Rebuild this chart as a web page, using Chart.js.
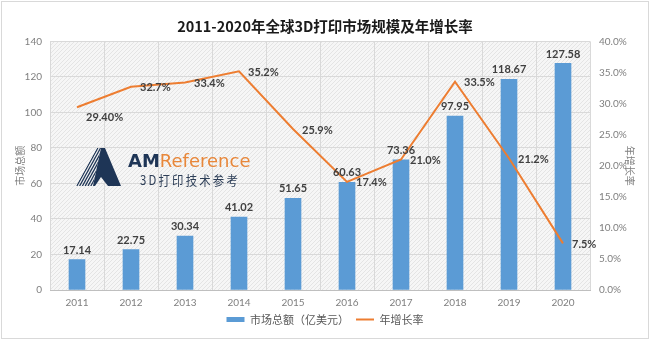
<!DOCTYPE html>
<html>
<head>
<meta charset="utf-8">
<script src="https://cdn.jsdelivr.net/npm/chart.js@4.4.0/dist/chart.umd.min.js"></script>
<style>
html, body { margin: 0; padding: 0; background: #fff; }
#wrap { width: 650px; height: 341px; }
</style>
</head>
<body>
<div id="wrap"><canvas id="chart" width="650" height="341"></canvas></div>
<script>
const years = ['2011', '2012', '2013', '2014', '2015', '2016', '2017', '2018', '2019', '2020'];
const marketSize = [17.14, 22.75, 30.34, 41.02, 51.65, 60.63, 73.36, 97.95, 118.67, 127.58];
const growthRate = [29.4, 32.7, 33.4, 35.2, 25.9, 17.4, 21.0, 33.5, 21.2, 7.5];
const growthText = ['29.40%', '32.7%', '33.4%', '35.2%', '25.9%', '17.4%', '21.0%', '33.5%', '21.2%', '7.5%'];

const FONT = 'Lato, "Noto Sans CJK SC", sans-serif';
const CJK = '"Noto Sans CJK SC", sans-serif';

// hatched light-grey plot background, like the excel texture
function makeHatch() {
    const p = document.createElement('canvas');
    p.width = 4; p.height = 4;
    const g = p.getContext('2d');
    g.fillStyle = '#f6f6f6';
    g.fillRect(0, 0, 4, 4);
    g.strokeStyle = '#e4e4e4';
    g.lineWidth = 1;
    g.beginPath();
    g.moveTo(0, 4); g.lineTo(4, 0);
    g.stroke();
    return g.createPattern(p, 'repeat');
}

const backdrop = {
    id: 'backdrop',
    beforeDraw(chart) {
        const ctx = chart.ctx, a = chart.chartArea;
        ctx.save();
        ctx.fillStyle = '#fff';
        ctx.fillRect(0, 0, chart.width, chart.height);
        ctx.fillStyle = makeHatch();
        ctx.fillRect(a.left, a.top, a.right - a.left, a.bottom - a.top);
        ctx.strokeStyle = '#d9d9d9';
        ctx.lineWidth = 1;
        ctx.strokeRect(1.5, 1.5, chart.width - 3, chart.height - 4);
        ctx.restore();
    }
};

function drawLogo(ctx) {
    const navy = '#1e3556';
    ctx.save();
    // striped left leg of the "A"
    ctx.beginPath();
    ctx.moveTo(76, 186); ctx.lineTo(97, 148); ctx.lineTo(101, 148); ctx.lineTo(93, 186);
    ctx.closePath();
    ctx.save();
    ctx.clip();
    ctx.strokeStyle = navy;
    ctx.lineWidth = 1.3;
    for (let dx = -30; dx < 40; dx += 2.8) {
        ctx.beginPath();
        ctx.moveTo(76 + dx, 186);
        ctx.lineTo(97 + dx, 148);
        ctx.stroke();
    }
    ctx.restore();
    // solid right leg
    ctx.fillStyle = navy;
    ctx.beginPath();
    ctx.moveTo(101, 148); ctx.lineTo(105, 148); ctx.lineTo(121, 186);
    ctx.lineTo(108, 186); ctx.lineTo(101, 177); ctx.lineTo(95, 186); ctx.lineTo(93, 186);
    ctx.closePath();
    ctx.fill();

    ctx.textBaseline = 'alphabetic';
    ctx.textAlign = 'left';
    ctx.font = 'bold 18px "DejaVu Sans", sans-serif';
    ctx.fillStyle = navy;
    const amW = Math.min(ctx.measureText('AM').width, 33);
    ctx.fillText('AM', 128, 167, 33);
    ctx.font = '18px "DejaVu Sans", sans-serif';
    ctx.fillStyle = '#e8873a';
    ctx.fillText('Reference', 128 + amW, 167, 252 - 128 - amW);
    ctx.font = '13px ' + CJK;
    ctx.fillStyle = '#2d3e57';
    ctx.textBaseline = 'middle';
    ctx.letterSpacing = '2.5px';
    ctx.fillText('3D打印技术参考', 140, 180, 100);
    ctx.restore();
}

const valueLabels = {
    id: 'valueLabels',
    afterDatasetsDraw(chart) {
        const ctx = chart.ctx;
        drawLogo(ctx);
        ctx.save();
        ctx.font = 'bold 11px ' + FONT;
        ctx.fillStyle = '#404040';
        const bars = chart.getDatasetMeta(0).data;
        ctx.textAlign = 'center';
        ctx.textBaseline = 'bottom';
        bars.forEach((b, i) => {
            ctx.fillText(marketSize[i].toFixed(2), b.x, b.y - 4);
        });
        const pts = chart.getDatasetMeta(1).data;
        ctx.textAlign = 'left';
        ctx.textBaseline = 'middle';
        pts.forEach((p, i) => {
            const dy = i === 0 ? 10 : 1;
            ctx.fillText(growthText[i], p.x + 9, p.y + dy);
        });
        ctx.restore();
    }
};

new Chart(document.getElementById('chart'), {
    data: {
        labels: years,
        datasets: [{
            type: 'bar',
            label: '市场总额（亿美元）',
            data: marketSize,
            backgroundColor: '#5b9bd5',
            barThickness: 16,
            yAxisID: 'y',
            order: 2,
            pointStyle: 'rect'
        }, {
            type: 'line',
            label: '年增长率',
            data: growthRate,
            borderColor: '#ed7d31',
            backgroundColor: '#ed7d31',
            borderWidth: 2,
            pointRadius: 0,
            tension: 0,
            yAxisID: 'y1',
            order: 1,
            pointStyle: 'line'
        }]
    },
    options: {
        responsive: false,
        animation: false,
        devicePixelRatio: 1,
        layout: { padding: { left: 0, right: 0, top: 0, bottom: 6 } },
        plugins: {
            title: {
                display: true,
                text: '2011-2020年全球3D打印市场规模及年增长率',
                color: '#1a1a1a',
                font: { family: CJK, size: 14.5, weight: 'bold' },
                padding: { top: 18, bottom: 6 }
            },
            legend: {
                position: 'bottom',
                labels: {
                    usePointStyle: true,
                    pointStyleWidth: 18,
                    boxHeight: 5,
                    padding: 7,
                    color: '#595959',
                    font: { family: CJK, size: 11 },
                    sort: (a, b) => a.datasetIndex - b.datasetIndex
                }
            },
            tooltip: { enabled: false }
        },
        scales: {
            x: {
                grid: { color: '#d9d9d9', drawTicks: false, offset: true },
                border: { color: '#bfbfbf' },
                ticks: { color: '#7f7f7f', font: { family: FONT, size: 10 }, padding: 7 },
                afterFit: s => { s.height = 17; }
            },
            y: {
                position: 'left',
                min: 0, max: 140,
                ticks: { stepSize: 20, color: '#7f7f7f', font: { family: FONT, size: 10 }, padding: 8 },
                grid: { color: '#d9d9d9', drawTicks: false },
                border: { display: false },
                title: {
                    display: true, text: '市场总额', color: '#7f7f7f',
                    font: { family: CJK, size: 10 }, padding: { top: 14, bottom: 0 }
                },
                afterFit: s => { s.width = 50; }
            },
            y1: {
                position: 'right',
                min: 0, max: 40,
                ticks: {
                    stepSize: 5, color: '#7f7f7f', font: { family: FONT, size: 10 }, padding: 9,
                    callback: v => v.toFixed(1) + '%'
                },
                grid: { drawOnChartArea: false, drawTicks: false },
                border: { display: false },
                title: {
                    display: true, text: '年增长率', color: '#7f7f7f',
                    font: { family: CJK, size: 10 }, padding: { top: 14, bottom: 0 }
                },
                afterFit: s => { s.width = 60; }
            }
        }
    },
    plugins: [backdrop, valueLabels]
});
</script>
</body>
</html>
